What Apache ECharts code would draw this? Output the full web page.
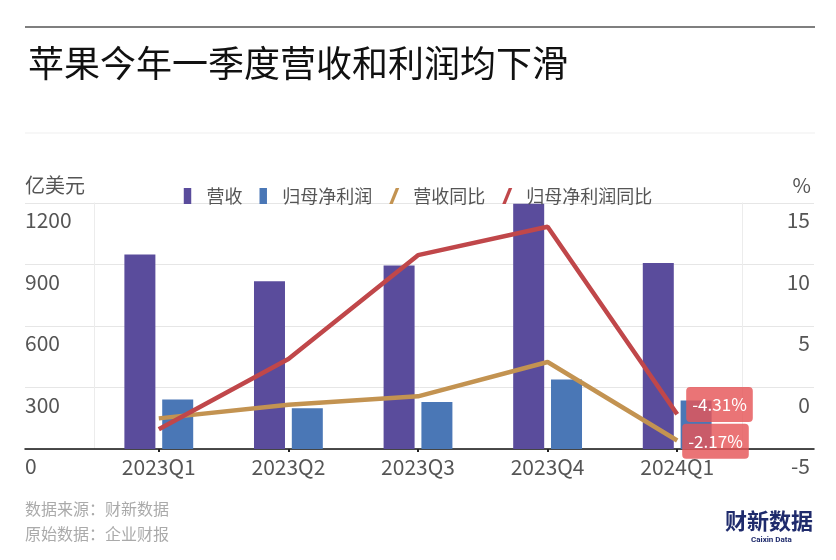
<!DOCTYPE html>
<html>
<head>
<meta charset="utf-8">
<script src="https://cdn.jsdelivr.net/npm/echarts@6/dist/echarts.min.js"></script>
<style>
  html, body { margin: 0; padding: 0; background: #fff; }
  #chart { width: 836px; height: 560px; }
</style>
</head>
<body>
<div id="chart"></div>
<script>
// 数据（亿美元 / %）
var quarters = ["2023Q1", "2023Q2", "2023Q3", "2023Q4", "2024Q1"];
var revenue = [948.36, 817.97, 894.98, 1195.75, 907.53];
var netProfit = [241.60, 198.81, 229.56, 339.16, 236.36];
var revenueYoy = [-2.51, -1.40, -0.72, 2.07, -4.31];
var netProfitYoy = [-3.40, 2.31, 10.76, 13.07, -2.17];
var leftTicks = { min: 0, max: 1200, interval: 300 };
var rightTicks = { min: -5, max: 15, interval: 5 };

var FONT = '"Noto Sans CJK SC", "Noto Sans", sans-serif';
var barIcon = "path://M0,0H7V15H0Z";
var lineIcon = "path://M6.5,0H10L3.5,16H0Z";

var chart = echarts.init(document.getElementById("chart"));

function endLabel(distance, dy) {
  return {
    show: true,
    distance: distance,
    offset: [0, dy],
    formatter: function (p) {
      return p.value.toFixed(2) + "%";
    },
    color: "#fff",
    fontSize: 17,
    fontFamily: FONT,
    backgroundColor: "rgba(229,86,88,0.82)",
    borderRadius: 4,
    padding: [9, 6]
  };
}

chart.setOption({
  animation: false,
  textStyle: { fontFamily: FONT },
  title: {
    text: "苹果今年一季度营收和利润均下滑",
    left: 23,
    top: 40,
    textStyle: { fontSize: 36, fontWeight: "normal", color: "#111", fontFamily: FONT }
  },
  legend: {
    top: 182,
    left: "center",
    itemWidth: 10,
    itemHeight: 16,
    itemGap: 17,
    textStyle: { fontSize: 18, color: "#555", padding: [0, 0, 0, 9], fontFamily: FONT },
    data: [
      { name: "营收", icon: barIcon },
      { name: "归母净利润", icon: barIcon },
      { name: "营收同比", icon: lineIcon },
      { name: "归母净利润同比", icon: lineIcon }
    ]
  },
  grid: [
    { left: 25, right: 22, top: 203, bottom: 111 },
    { left: 94, right: 94, top: 203, bottom: 111 }
  ],
  xAxis: [
    {
      gridIndex: 0,
      type: "value",
      min: 0,
      max: 1,
      axisLine: { show: true, lineStyle: { color: "#111", width: 1.5 } },
      axisTick: { show: false },
      axisLabel: { show: false },
      splitLine: { show: false }
    },
    {
      gridIndex: 1,
      type: "category",
      data: quarters,
      axisLine: { show: false },
      axisTick: { show: true, alignWithLabel: true, length: 3, lineStyle: { color: "#222", width: 2 } },
      axisLabel: { fontSize: 21, color: "#555", margin: 8, fontFamily: FONT }
    }
  ],
  yAxis: [
    {
      gridIndex: 0,
      type: "value",
      position: "left",
      min: leftTicks.min,
      max: leftTicks.max,
      interval: leftTicks.interval,
      name: "亿美元",
      nameGap: 18,
      nameTextStyle: { fontSize: 20, color: "#555", align: "left", verticalAlign: "middle", fontFamily: FONT },
      axisLine: { show: false },
      axisTick: { show: false },
      axisLabel: {
        inside: true,
        margin: 0,
        fontSize: 21,
        color: "#555",
        verticalAlign: "top",
        padding: [7, 0, 0, 0],
        fontFamily: FONT,
        formatter: function (v) { return String(v); }
      },
      splitLine: { lineStyle: { color: "#e6e6e6", width: 1 } }
    },
    {
      gridIndex: 0,
      type: "value",
      position: "right",
      min: rightTicks.min,
      max: rightTicks.max,
      interval: rightTicks.interval,
      name: "%",
      nameGap: 18,
      nameTextStyle: { fontSize: 20, color: "#555", align: "right", verticalAlign: "middle", padding: [0, 3, 0, 0], fontFamily: FONT },
      axisLine: { show: false },
      axisTick: { show: false },
      axisLabel: {
        inside: true,
        margin: 4,
        fontSize: 21,
        color: "#555",
        verticalAlign: "top",
        padding: [7, 0, 0, 0],
        fontFamily: FONT
      },
      splitLine: { show: false }
    },
    {
      gridIndex: 1,
      type: "value",
      position: "left",
      min: leftTicks.min,
      max: leftTicks.max,
      interval: leftTicks.interval,
      axisLine: { show: true, lineStyle: { color: "#ececec" } },
      axisTick: { show: false },
      axisLabel: { show: false },
      splitLine: { show: false }
    },
    {
      gridIndex: 1,
      type: "value",
      position: "right",
      min: rightTicks.min,
      max: rightTicks.max,
      interval: rightTicks.interval,
      axisLine: { show: true, lineStyle: { color: "#ececec" } },
      axisTick: { show: false },
      axisLabel: { show: false },
      splitLine: { show: false }
    }
  ],
  series: [
    {
      name: "营收",
      type: "bar",
      xAxisIndex: 1,
      yAxisIndex: 2,
      barWidth: 31,
      barGap: "22%",
      itemStyle: { color: "#5a4c9c" },
      data: revenue
    },
    {
      name: "归母净利润",
      type: "bar",
      xAxisIndex: 1,
      yAxisIndex: 2,
      barWidth: 31,
      barGap: "22%",
      itemStyle: { color: "#4a77b6" },
      data: netProfit
    },
    {
      name: "营收同比",
      type: "line",
      xAxisIndex: 1,
      yAxisIndex: 3,
      showSymbol: false,
      lineStyle: { color: "#c39351", width: 4.5 },
      itemStyle: { color: "#c39351" },
      endLabel: endLabel(9, -36),
      data: revenueYoy
    },
    {
      name: "归母净利润同比",
      type: "line",
      xAxisIndex: 1,
      yAxisIndex: 3,
      showSymbol: false,
      lineStyle: { color: "#c0474a", width: 4.5 },
      itemStyle: { color: "#c0474a" },
      endLabel: endLabel(5, 27),
      data: netProfitYoy
    }
  ],
  graphic: [
    { type: "line", shape: { x1: 25, y1: 27, x2: 815, y2: 27 }, style: { stroke: "#555", lineWidth: 1.5 } },
    { type: "line", shape: { x1: 25, y1: 133, x2: 815, y2: 133 }, style: { stroke: "#efefef", lineWidth: 1 } },
    { type: "text", left: 25, top: 501, style: { text: "数据来源：财新数据", fontSize: 16, fill: "#aaa", fontFamily: FONT } },
    { type: "text", left: 25, top: 526, style: { text: "原始数据：企业财报", fontSize: 16, fill: "#aaa", fontFamily: FONT } },
    { type: "text", left: 725, top: 510, style: { text: "财新数据", fontSize: 22, fontWeight: "bold", fill: "#1f2b6c", fontFamily: FONT } },
    { type: "text", left: 751, top: 536, style: { text: "Caixin Data", fontSize: 8, fontWeight: "bold", fill: "#1f2b6c", fontFamily: "Roboto, sans-serif" } }
  ]
});
</script>
</body>
</html>
